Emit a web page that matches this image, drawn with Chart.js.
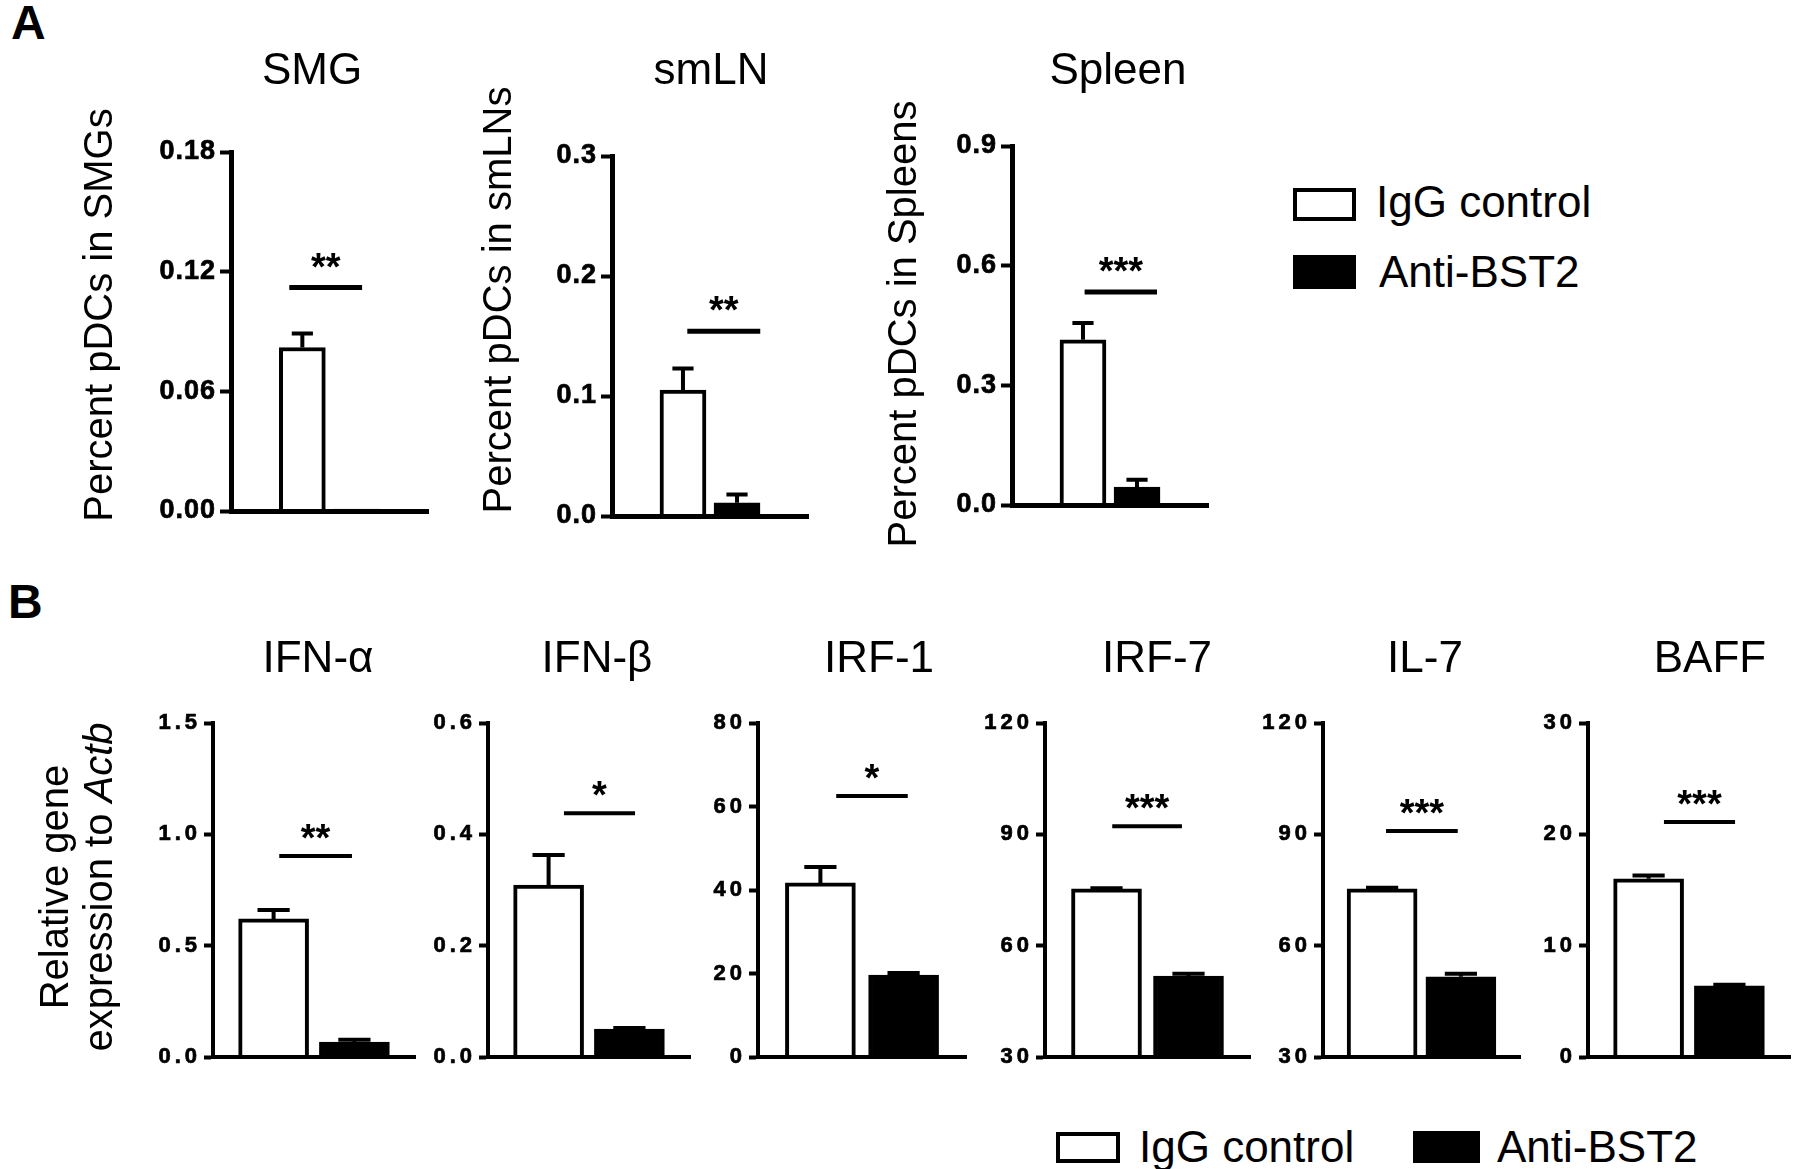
<!DOCTYPE html>
<html>
<head>
<meta charset="utf-8">
<title>pDC depletion by anti-BST2</title>
<script src="https://cdn.jsdelivr.net/npm/chart.js@4.4.1/dist/chart.umd.min.js"></script>
<style>
  body { margin: 0; background: #fff; }
  #fig { position: relative; width: 1800px; height: 1169px; overflow: hidden;
         font-family: "Liberation Sans", Arial, sans-serif; color: #000; }
  #fig canvas { position: absolute; left: 0; top: 0; }
  .letter { position: absolute; font-weight: bold; font-size: 48px; line-height: 48px; }
  .key { position: absolute; box-sizing: border-box; border: 4px solid #000; background: #fff; }
  .key.filled { background: #000; }
  .keytext { position: absolute; font-size: 44px; line-height: 44px; white-space: nowrap; }
</style>
</head>
<body>
<div id="fig">
  <div class="letter" style="left:11px; top:-1px">A</div>
  <div class="letter" style="left:8px; top:578px">B</div>

  <div class="key" style="left:1293px; top:188px; width:63px; height:33px"></div>
  <div class="keytext" style="left:1376px; top:180px">IgG control</div>
  <div class="key filled" style="left:1293px; top:255px; width:63px; height:34px"></div>
  <div class="keytext" style="left:1379px; top:250px">Anti-BST2</div>

  <div class="key" style="left:1056px; top:1132px; width:64px; height:31px"></div>
  <div class="keytext" style="left:1139px; top:1125px">IgG control</div>
  <div class="key filled" style="left:1413px; top:1131px; width:67px; height:32px"></div>
  <div class="keytext" style="left:1497px; top:1125px">Anti-BST2</div>
</div>

<script>
const groups = ['IgG control', 'Anti-BST2'];

// A: percent pDCs per tissue
const tissues = ['SMG', 'smLN', 'Spleen'];
const tissueLabels = ['Percent pDCs in SMGs', 'Percent pDCs in smLNs', 'Percent pDCs in Spleens'];
const pdcMean = [[0.082, 0.001], [0.105, 0.011], [0.414, 0.045]];
const pdcSem = [[0.007, 0], [0.018, 0.007], [0.042, 0.018]];
const pdcTicks = [[0, 0.06, 0.12, 0.18], [0, 0.1, 0.2, 0.3], [0, 0.3, 0.6, 0.9]];
const pdcDecimals = [2, 1, 1];
const pdcStars = ['**', '**', '***'];
const pdcSigY = [0.112, 0.154, 0.534];

// B: relative gene expression to Actb
const genes = ['IFN-α', 'IFN-β', 'IRF-1', 'IRF-7', 'IL-7', 'BAFF'];
const exprMean = [[0.62, 0.067], [0.309, 0.05], [41.7, 19.6], [75.3, 51.8], [75.3, 51.6], [16.0, 6.4]];
const exprSem = [[0.04, 0.011], [0.054, 0.002], [3.8, 0.5], [0.2, 0.6], [0.3, 0.8], [0.3, 0.1]];
const exprTicks = [[0, 0.5, 1.0, 1.5], [0, 0.2, 0.4, 0.6], [0, 20, 40, 60, 80], [30, 60, 90, 120], [30, 60, 90, 120], [0, 10, 20, 30]];
const exprDecimals = [1, 1, 0, 0, 0, 0];
const exprStars = ['**', '*', '*', '***', '***', '***'];
const exprSigY = [0.903, 0.438, 62.5, 92.2, 90.9, 21.1];

// where each plot sits on the page: chart area [left, top, right, bottom]
const layoutA = [
  { area: [231, 152, 428, 511], titleX: 312, label: [101, 315], sig: [-0.24, 1.10] },
  { area: [612, 156, 808, 516], titleX: 711, label: [500, 300], sig: [0.08, 1.43] },
  { area: [1012, 146, 1208, 505], titleX: 1118, label: [905, 324], sig: [0.03, 1.37] },
];
const layoutB = [
  { area: [213, 723, 415, 1057], titleX: 318, sig: [0.07, 0.97] },
  { area: [488, 723, 690, 1057], titleX: 597, sig: [0.19, 1.07] },
  { area: [758, 723, 966, 1057], titleX: 879, sig: [0.19, 1.05] },
  { area: [1045, 723, 1250, 1057], titleX: 1157, sig: [0.07, 0.92] },
  { area: [1323, 723, 1520, 1057], titleX: 1425, sig: [0.05, 0.96] },
  { area: [1588, 723, 1790, 1057], titleX: 1710, sig: [0.19, 1.07] },
];

const FONT = '"Liberation Sans", Arial, sans-serif';
const W = 1800, H = 1169;
Chart.defaults.font.family = FONT;
Chart.defaults.color = '#000';

const fig = document.getElementById('fig');

function drawRotated(ctx, cx, cy, parts, size) {
  ctx.save();
  ctx.translate(cx, cy);
  ctx.rotate(-Math.PI / 2);
  ctx.textBaseline = 'middle';
  ctx.textAlign = 'left';
  const fonts = parts.map((p) => (p[1] ? 'italic ' : '') + size + 'px ' + FONT);
  const widths = parts.map((p, i) => { ctx.font = fonts[i]; return ctx.measureText(p[0]).width; });
  let x = -widths.reduce((a, b) => a + b, 0) / 2;
  parts.forEach((p, i) => { ctx.font = fonts[i]; ctx.fillText(p[0], x, 0); x += widths[i]; });
  ctx.restore();
}

function extrasPlugin(cfg) {
  return {
    id: 'extras',
    beforeDraw(chart) {
      chart.ctx.letterSpacing = cfg.tickSpacing + 'px';
    },
    beforeDatasetsDraw(chart) {
      chart.ctx.letterSpacing = '0px';
    },
    afterDatasetsDraw(chart) {
      const ctx = chart.ctx;
      const xs = chart.scales.x, ys = chart.scales.y;
      const bars = chart.getDatasetMeta(0).data;
      ctx.save();
      ctx.strokeStyle = '#000';
      ctx.lineWidth = 4;
      // error bars (mean + SEM, upward only)
      bars.forEach((bar, i) => {
        if (!cfg.sem[i]) return;
        const top = ys.getPixelForValue(cfg.mean[i] + cfg.sem[i]);
        const half = bar.width * 0.23;
        ctx.beginPath();
        ctx.moveTo(bar.x, bar.y);
        ctx.lineTo(bar.x, top);
        ctx.moveTo(bar.x - half, top);
        ctx.lineTo(bar.x + half, top);
        ctx.stroke();
      });
      // significance bar
      const sy = ys.getPixelForValue(cfg.sigY);
      const x0 = xs.getPixelForValue(cfg.sig[0]);
      const x1 = xs.getPixelForValue(cfg.sig[1]);
      ctx.lineWidth = cfg.sigWidth;
      ctx.beginPath();
      ctx.moveTo(x0, sy);
      ctx.lineTo(x1, sy);
      ctx.stroke();
      ctx.fillStyle = '#000';
      ctx.font = 'bold 38px ' + FONT;
      ctx.textAlign = 'center';
      ctx.textBaseline = 'alphabetic';
      ctx.fillText(cfg.stars, (x0 + x1) / 2, sy - cfg.starGap);
      ctx.restore();
    },
    afterDraw(chart) {
      const ctx = chart.ctx;
      ctx.save();
      ctx.letterSpacing = '0px';
      ctx.fillStyle = '#000';
      ctx.font = '44px ' + FONT;
      ctx.textAlign = 'center';
      ctx.textBaseline = 'middle';
      ctx.fillText(cfg.title, cfg.titleX, cfg.titleY);
      (cfg.labels || []).forEach((l) => drawRotated(ctx, l.x, l.y, l.parts, 40));
      ctx.restore();
    },
  };
}

function makeChart(cfg) {
  const canvas = document.createElement('canvas');
  canvas.width = W;
  canvas.height = H;
  fig.appendChild(canvas);
  const [left, top, right, bottom] = cfg.area;
  const ticks = cfg.ticks;
  return new Chart(canvas, {
    type: 'bar',
    data: {
      labels: groups,
      datasets: [{
        data: cfg.mean.map((v, i) => ({ x: i, y: v })),
        backgroundColor: ['#fff', '#000'],
        borderColor: '#000',
        borderWidth: 4,
        barThickness: cfg.barWidth,
        base: ticks[0],
      }],
    },
    options: {
      responsive: false,
      animation: false,
      events: [],
      layout: { padding: { left: 0, top: top, right: W - right, bottom: 0 } },
      scales: {
        x: {
          type: 'linear',
          min: cfg.xRange[0],
          max: cfg.xRange[1],
          ticks: { display: false },
          grid: { display: false },
          border: { display: true, width: cfg.axisWidth, color: '#000', z: 1 },
          afterFit: (s) => { s.height = H - bottom; },
        },
        y: {
          min: ticks[0],
          max: ticks[ticks.length - 1],
          afterBuildTicks: (s) => { s.ticks = ticks.map((v) => ({ value: v })); },
          ticks: {
            font: { size: cfg.tickSize, weight: 'bold' },
            padding: cfg.tickPad,
            textStrokeWidth: 0.7,
            textStrokeColor: '#000',
            callback: (v) => Number(v).toFixed(cfg.decimals),
          },
          grid: { drawOnChartArea: false, tickLength: cfg.tickLength, tickWidth: 4, color: '#000' },
          border: { display: true, width: cfg.axisWidth, color: '#000' },
          afterFit: (s) => { s.width = left; },
        },
      },
      plugins: { legend: { display: false }, tooltip: { enabled: false } },
    },
    plugins: [extrasPlugin(cfg)],
  });
}

// panel A
tissues.forEach((name, k) => {
  const lay = layoutA[k];
  makeChart({
    area: lay.area, xRange: [-0.86, 1.86], barWidth: 46,
    mean: pdcMean[k], sem: pdcSem[k], ticks: pdcTicks[k], decimals: pdcDecimals[k],
    stars: pdcStars[k], sigY: pdcSigY[k], sig: lay.sig, sigWidth: 5, starGap: 8,
    tickSize: 27, tickSpacing: 1, tickPad: 4, tickLength: 11, axisWidth: 5,
    title: name, titleX: lay.titleX, titleY: 72,
    labels: [{ x: lay.label[0], y: lay.label[1], parts: [[tissueLabels[k], false]] }],
  });
});

// panel B
genes.forEach((name, k) => {
  const lay = layoutB[k];
  makeChart({
    area: lay.area, xRange: [-0.5, 1.5], barWidth: 70,
    mean: exprMean[k], sem: exprSem[k], ticks: exprTicks[k], decimals: exprDecimals[k],
    stars: exprStars[k], sigY: exprSigY[k], sig: lay.sig, sigWidth: 4, starGap: 5,
    tickSize: 22, tickSpacing: 4, tickPad: 3, tickLength: 9, axisWidth: 4,
    title: name, titleX: lay.titleX, titleY: 660,
    labels: k === 0 ? [
      { x: 57, y: 887, parts: [['Relative gene', false]] },
      { x: 101, y: 887, parts: [['expression to ', false], ['Actb', true]] },
    ] : [],
  });
});
</script>
</body>
</html>
